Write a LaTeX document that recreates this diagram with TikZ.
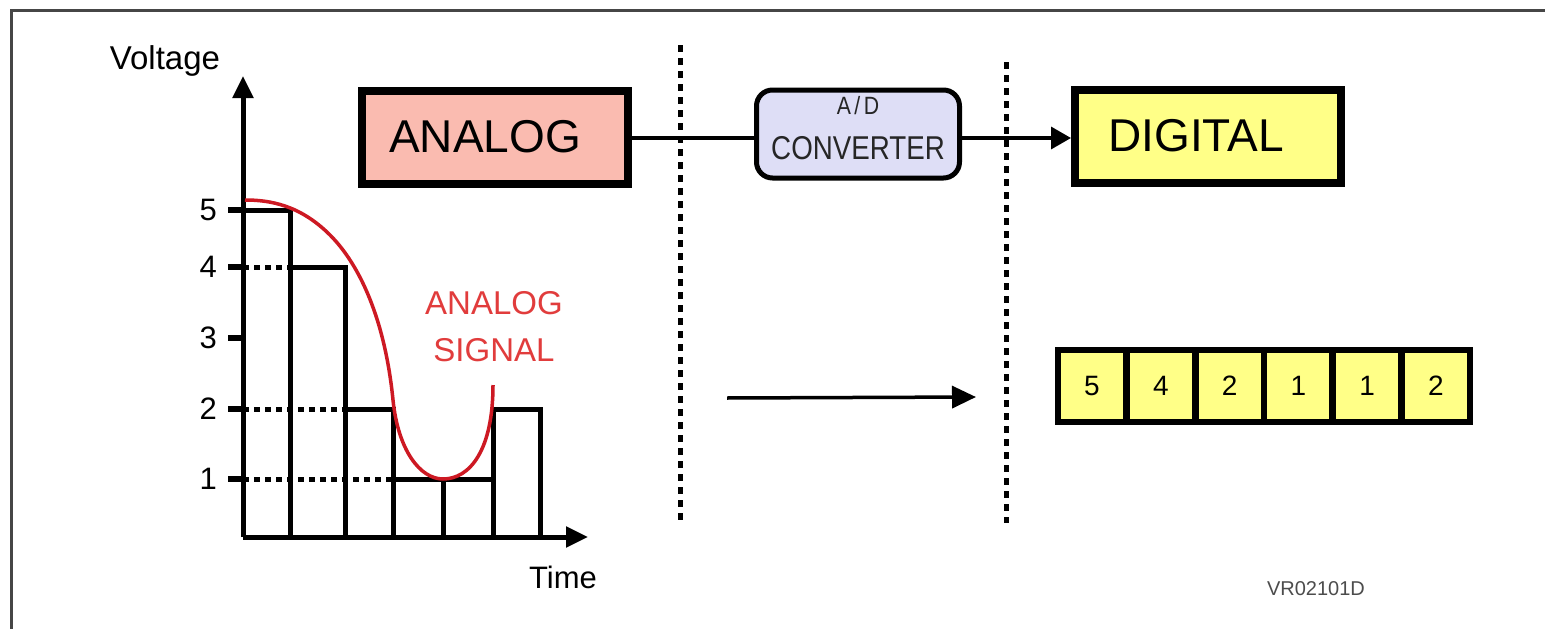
\documentclass[tikz,border=0pt]{standalone}
\usepackage{fontspec}
\setmainfont{Liberation Sans}
\usetikzlibrary{arrows.meta}

\definecolor{analogfill}{RGB}{250,187,176}
\definecolor{adfill}{RGB}{222,222,246}
\definecolor{digitfill}{RGB}{255,255,135}
\definecolor{curvered}{RGB}{205,25,35}
\definecolor{labelred}{RGB}{225,60,60}
\definecolor{framegray}{RGB}{70,70,70}

\tikzset{
  fs/.style={font=\fontsize{#1}{#1}\selectfont},
  bigbox/.style={draw=black, line width=8pt, minimum width=266pt, minimum height=93pt, inner sep=0pt, fs=46},
  cell/.style={draw=black, line width=6pt, fill=digitfill, minimum width=68pt, minimum height=72pt, inner sep=0pt, fs=28},
  barline/.style={line width=5pt},
  levelgrid/.style={line width=5pt, dash pattern=on 6pt off 5pt},
  divider/.style={line width=5pt, dash pattern=on 7pt off 6pt},
  tick/.style={line width=5.5pt},
  ticklabel/.style={anchor=east, inner sep=0pt, fs=31},
  axisarrow/.style={line width=5pt, -{Triangle[length=22pt, width=20pt]}},
  conn/.style={line width=3.5pt}
}

\begin{document}
\begin{tikzpicture}[x=1pt, y=-1pt]
\useasboundingbox (0,0) rectangle (1545,629);
\fill[white] (0,0) rectangle (1545,629);

% outer frame (top and left edges)
\draw[framegray, line width=3pt] (11,640) -- (11,10) -- (1550,10);

% ---------- bar chart ----------
\coordinate (O) at (243,537);
\coordinate (ytop) at (243,76);
\coordinate (xend) at (588,537);

% staircase bars
\draw[barline] (243,210) -- (290,210) -- (290,537);
\draw[barline] (290,267) -- (345,267) -- (345,537);
\draw[barline] (345,409) -- (393,409) -- (393,537);
\draw[barline] (393,479) -- (493,479);
\draw[barline] (443,479) -- (443,537);
\draw[barline] (493,537) -- (493,409) -- (540,409) -- (540,537);

% dotted level guides
\draw[levelgrid] (243,267) -- (290,267);
\draw[levelgrid] (243,409) -- (345,409);
\draw[levelgrid] (243,479) -- (393,479);

% axes
\draw[axisarrow] (O) -- (ytop);
\draw[axisarrow] (O) -- (xend);

% ticks and labels
\foreach \v/\y in {5/210, 4/267, 3/338, 2/409, 1/479}{
  \draw[tick] (228,\y) -- (243,\y);
  \node[ticklabel] (t\v) at (217,\y) {\v};
}

\node[fs=33] (voltage) at (165,61) {Voltage};
\node[fs=31] (time) at (563,577) {Time};

% analog signal curve
\draw[curvered, line width=3.5pt]
  (245,200) .. controls (270,200) and (300,205) .. (330,235)
  .. controls (360,265) and (385,320) .. (393,400)
  .. controls (398,450) and (420,479) .. (443,479)
  .. controls (470,479) and (493,450) .. (493,385);

\node[labelred, fs=33, align=center, inner sep=0pt] (siglabel) at (494,327)
  {ANALOG\\[14pt]SIGNAL};

% ---------- top chain ----------
\node[bigbox, fill=analogfill] (analog) at (495,137) {ANALOG\hspace*{20pt}};

\node[draw=black, line width=5pt, fill=adfill, rounded corners=16pt,
      minimum width=203pt, minimum height=88pt, inner sep=0pt] (adc) at (858,134) {};
\node[fs=25, text=black!85] (adtop) at (858,106) {\scalebox{0.85}[1]{A\,/\,D}};
\node[fs=33, text=black!85] (adbot) at (858,148) {\scalebox{0.84}[1]{CONVERTER}};

\node[bigbox, fill=digitfill] (digital) at (1208,136) {DIGITAL\hspace*{24pt}};

\draw[conn] (analog.east |- 0,138) -- (adc.west |- 0,138);
\draw[conn, -{Triangle[length=20pt, width=22pt]}] (adc.east |- 0,138) -- (digital.west |- 0,138);

% dotted dividers
\coordinate (d1a) at (680,45);
\coordinate (d1b) at (680,521);
\coordinate (d2a) at (1006,62);
\coordinate (d2b) at (1006,523);
\draw[divider] (d1a) -- (d1b);
\draw[divider] (d2a) -- (d2b);

% conversion arrow
\coordinate (ca) at (727,398);
\coordinate (cb) at (976,397);
\draw[line width=3.5pt, -{Triangle[length=24pt, width=22pt]}] (ca) -- (cb);

% ---------- digital word ----------
\foreach \i/\d in {0/5, 1/4, 2/2, 3/1, 4/1, 5/2}{
  \node[cell] (c\i) at ({1092+68.8*\i},386) {\d};
}

\node[fs=20, text=black!70] (code) at (1316,589) {VR02101D};
\end{tikzpicture}
\end{document}
